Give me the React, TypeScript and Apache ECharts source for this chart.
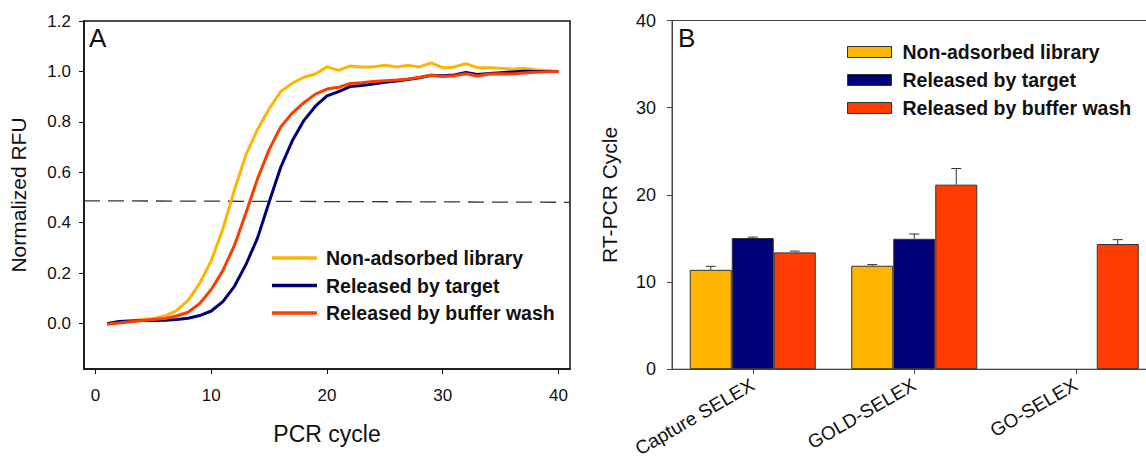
import React, { useEffect, useRef } from "react";
import * as echarts from "echarts";

// ---------- Panel A data ----------
const cycles = [
  1, 2, 3, 4, 5, 6, 7, 8, 9, 10, 11, 12, 13, 14, 15, 16, 17, 18, 19, 20,
  21, 22, 23, 24, 25, 26, 27, 28, 29, 30, 31, 32, 33, 34, 35, 36, 37, 38, 39, 40,
];
const nonAdsorbedCurve = [
  0.0, 0.006, 0.01, 0.015, 0.02, 0.03, 0.052, 0.092, 0.16, 0.25,
  0.375, 0.53, 0.67, 0.77, 0.852, 0.92, 0.953, 0.977, 0.99, 1.018,
  1.004, 1.022, 1.018, 1.018, 1.025, 1.018, 1.024, 1.018, 1.034, 1.015,
  1.018, 1.031, 1.015, 1.015, 1.013, 1.009, 1.013, 1.007, 1.004, 1.0,
];
const targetCurve = [
  0.0, 0.008, 0.01, 0.012, 0.012, 0.013, 0.016, 0.021, 0.032, 0.05,
  0.087, 0.148, 0.235, 0.34, 0.482, 0.62, 0.725, 0.805, 0.862, 0.903,
  0.92, 0.94, 0.944, 0.95, 0.957, 0.962, 0.968, 0.975, 0.985, 0.983,
  0.986, 0.996, 0.988, 0.992, 0.995, 0.998, 1.001, 1.0, 1.0, 1.0,
];
const bufferCurve = [
  -0.003, 0.002, 0.007, 0.012, 0.016, 0.02, 0.03, 0.045, 0.08, 0.135,
  0.21, 0.31, 0.44, 0.575, 0.69, 0.78, 0.835, 0.876, 0.91, 0.93,
  0.937, 0.952, 0.955, 0.96, 0.963, 0.966, 0.97, 0.977, 0.985, 0.98,
  0.983, 0.991, 0.982, 0.99, 0.991, 0.99, 0.994, 0.997, 0.999, 1.0,
];
const thresholdX = [-1, 41];
const thresholdY = [0.487, 0.481];
const xTicksA = [0, 10, 20, 30, 40];
const yTicksA = [0, 0.2, 0.4, 0.6, 0.8, 1.0, 1.2];

// ---------- Panel B data ----------
const methods = ["Capture SELEX", "GOLD-SELEX", "GO-SELEX"];
const barNonAdsorbed = [11.4, 11.87, null];
const barTarget = [15.05, 14.96, null];
const barBuffer = [13.4, 21.17, 14.36];
const errNonAdsorbed = [0.4, 0.13, null];
const errTarget = [0.1, 0.55, null];
const errBuffer = [0.15, 1.85, 0.5];

const seriesNames = ["Non-adsorbed library", "Released by target", "Released by buffer wash"];
const colors = ["#FFB400", "#000078", "#FF3C00"];

const FONT = "'Liberation Sans', Arial, Helvetica, sans-serif";
const BAR_W = 42;
const B_PREFIX = "B: ";

export default function App() {
  const ref = useRef<HTMLDivElement>(null);

  useEffect(() => {
    if (!ref.current) return;
    const chart = echarts.init(ref.current, undefined, { renderer: "svg" });

    const curves = [nonAdsorbedCurve, targetCurve, bufferCurve];
    const bars = [barNonAdsorbed, barTarget, barBuffer];
    const errs = [errNonAdsorbed, errTarget, errBuffer];

    const lineSeries = curves.map((vals, k) => ({
      type: "line",
      name: seriesNames[k],
      xAxisIndex: 0,
      yAxisIndex: 0,
      data: cycles.map((c, i) => [c, vals[i]]),
      symbol: "none",
      showSymbol: false,
      lineStyle: { color: colors[k], width: 3 },
      itemStyle: { color: colors[k] },
      z: 3,
    }));

    const thresholdSeries = {
      type: "line",
      name: "threshold",
      xAxisIndex: 0,
      yAxisIndex: 0,
      data: thresholdX.map((x, i) => [x, thresholdY[i]]),
      symbol: "none",
      silent: true,
      lineStyle: { color: "#333", width: 1.3, type: [16, 8] },
      z: 2,
    };

    const barSeries = bars.map((vals, k) => ({
      type: "bar",
      name: B_PREFIX + seriesNames[k],
      xAxisIndex: 1,
      yAxisIndex: 1,
      data: vals,
      barWidth: BAR_W,
      barGap: "0%",
      itemStyle: { color: colors[k], borderColor: "#333", borderWidth: 1 },
      z: 2,
    }));

    const errorSeries = bars.map((vals, k) => ({
      type: "custom",
      name: "err" + k,
      xAxisIndex: 1,
      yAxisIndex: 1,
      silent: true,
      z: 5,
      data: vals
        .map((v, i) => (v == null || errs[k][i] == null ? null : [i, v, v + (errs[k][i] as number)]))
        .filter((d) => d !== null),
      encode: { x: 0, y: [1, 2] },
      renderItem: (params: any, api: any) => {
        const base = api.coord([api.value(0), api.value(1)]);
        const top = api.coord([api.value(0), api.value(2)]);
        const x = base[0] + (k - 1) * BAR_W;
        const st = { stroke: "#333", lineWidth: 1 };
        return {
          type: "group",
          children: [
            { type: "line", shape: { x1: x, y1: base[1], x2: x, y2: top[1] }, style: st },
            { type: "line", shape: { x1: x - 5, y1: top[1], x2: x + 5, y2: top[1] }, style: st },
          ],
        };
      },
    }));

    const option: any = {
      animation: false,
      backgroundColor: "#fff",
      textStyle: { fontFamily: FONT },
      grid: [
        {
          left: 84, top: 21, width: 486, height: 348,
          show: true, borderColor: "#111", borderWidth: 1.5, backgroundColor: "transparent",
        },
        {
          left: 672, top: 20.5, right: 13.5, bottom: 90.7,
          show: true, borderColor: "#444", borderWidth: 1, backgroundColor: "transparent",
        },
      ],
      xAxis: [
        {
          type: "value", gridIndex: 0, min: -1, max: 41,
          name: "PCR cycle", nameLocation: "middle", nameGap: 53,
          nameTextStyle: { fontSize: 23, color: "#111", fontFamily: FONT },
          axisLine: { show: true, onZero: false, lineStyle: { color: "#111", width: 1.5 } },
          axisTick: { show: true, length: 5, customValues: xTicksA, lineStyle: { color: "#111" } },
          axisLabel: { customValues: xTicksA, fontSize: 17, color: "#111", margin: 18, fontFamily: FONT },
          splitLine: { show: false },
        },
        {
          type: "category", gridIndex: 1, data: methods,
          axisLine: { show: true, onZero: false, lineStyle: { color: "#444", width: 1 } },
          axisTick: { show: true, alignWithLabel: true, length: 5, lineStyle: { color: "#444" } },
          axisLabel: { rotate: 30, fontSize: 19, color: "#111", margin: 14, fontFamily: FONT },
          splitLine: { show: false },
        },
      ],
      yAxis: [
        {
          type: "value", gridIndex: 0, min: -0.18, max: 1.2,
          name: "Normalized RFU", nameLocation: "middle", nameGap: 55, nameRotate: 90,
          nameTextStyle: { fontSize: 21, color: "#111", fontFamily: FONT },
          axisLine: { show: true, onZero: false, lineStyle: { color: "#111", width: 1.5 } },
          axisTick: { show: true, length: 5, customValues: yTicksA, lineStyle: { color: "#111" } },
          axisLabel: {
            customValues: yTicksA, fontSize: 17, color: "#111", margin: 13, fontFamily: FONT,
            formatter: (v: number) => v.toFixed(1),
          },
          splitLine: { show: false },
        },
        {
          type: "value", gridIndex: 1, min: 0, max: 40, interval: 10,
          name: "RT-PCR Cycle", nameLocation: "middle", nameGap: 52, nameRotate: 90,
          nameTextStyle: { fontSize: 21, color: "#111", fontFamily: FONT },
          axisLine: { show: true, onZero: false, lineStyle: { color: "#444", width: 1 } },
          axisTick: { show: true, length: 5, lineStyle: { color: "#444" } },
          axisLabel: { fontSize: 18, color: "#111", margin: 16, fontFamily: FONT },
          splitLine: { show: false },
        },
      ],
      legend: [
        {
          orient: "vertical", left: 272, top: 248, padding: 0,
          itemWidth: 45, itemHeight: 3.5, itemGap: 7.5, selectedMode: false, icon: "rect",
          data: seriesNames,
          textStyle: { fontSize: 19.5, fontWeight: "bold", color: "#111", fontFamily: FONT, padding: [0, 0, 0, 4] },
        },
        {
          orient: "vertical", left: 847, top: 42, padding: 0,
          itemWidth: 44, itemHeight: 11, itemGap: 8, selectedMode: false, icon: "rect",
          data: seriesNames.map((n) => B_PREFIX + n),
          formatter: (n: string) => n.replace(B_PREFIX, ""),
          itemStyle: { borderColor: "#333", borderWidth: 1 },
          textStyle: { fontSize: 19.5, fontWeight: "bold", color: "#111", fontFamily: FONT, padding: [0, 0, 0, 6] },
        },
      ],
      graphic: [
        { type: "text", left: 89, top: 25, style: { text: "A", fontSize: 26, fill: "#111", fontFamily: FONT } },
        { type: "text", left: 678, top: 25, style: { text: "B", fontSize: 26, fill: "#111", fontFamily: FONT } },
      ],
      series: [thresholdSeries, ...lineSeries, ...barSeries, ...errorSeries],
    };

    chart.setOption(option);
    return () => chart.dispose();
  }, []);

  return (
    <div style={{ position: "fixed", left: 0, top: 0, width: 1146, height: 460, overflow: "hidden", background: "#fff" }}>
      <div ref={ref} style={{ width: 1170, height: 460 }} />
    </div>
  );
}
